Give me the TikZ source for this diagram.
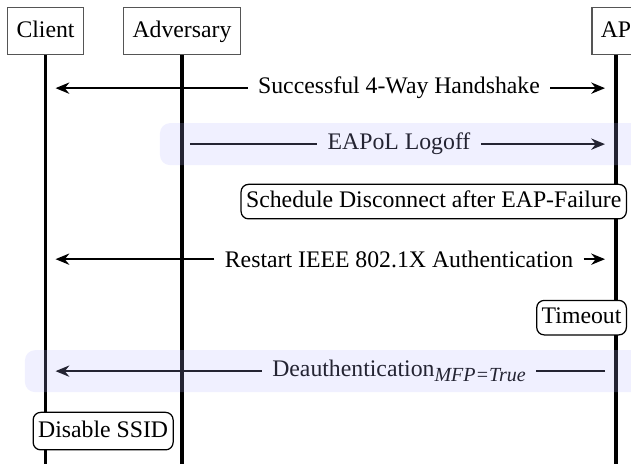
\documentclass[tikz,border=0pt]{standalone}
\usepackage{fontspec}
\setmainfont{Liberation Serif}
\usetikzlibrary{arrows.meta,positioning}
\definecolor{bandblue}{RGB}{180,180,255}
\definecolor{frame}{HTML}{555555}

\begin{document}
\begin{tikzpicture}[font=\fontsize{9.5}{11}\selectfont,
  actor/.style={draw=frame,fill=white,minimum height=18.8pt,text height=7pt,text depth=2pt,
                inner xsep=3.5pt,line width=0.5pt},
  lifeline/.style={line width=1.4pt},
  msgline/.style={line width=0.8pt},
  msg/.style={msgline,-{Stealth[length=5.5pt,width=4.5pt]}},
  msgtext/.style={inner xsep=4pt,inner ysep=1pt},
  proc/.style={draw,fill=white,rounded corners=3pt,inner xsep=2pt,inner ysep=1pt,
               minimum height=13.8pt,text height=7pt,text depth=2pt,line width=0.5pt},
  band/.style={fill=bandblue,fill opacity=0.2,rounded corners=4pt}]
  \useasboundingbox (0,0) rectangle (8.87,6.51);
  % participants
  \node[actor] (client) at (0.640,6.072) {Client};
  \node[actor] (adv) at (2.558,6.072) {Adversary};
  \node[actor] (ap) at (8.659,6.072) {AP};
  \foreach \p in {client,adv,ap}{
    \draw[lifeline] (\p.south) -- (\p.south |- 0,-0.2);}
  % successful handshake
  \node[msgtext] (hs) at (5.609,5.271) {Successful 4-Way Handshake};
  \draw[msg] (hs) -- ([xshift=4pt]client.south |- hs);
  \draw[msg] (hs) -- ([xshift=-4.4pt]ap.south |- hs);
  % logoff sent by the adversary
  \node[msgtext] (logoff) at (5.609,4.484) {EAPoL Logoff};
  \draw[msgline] ([xshift=3.2pt]adv.south |- logoff) -- (logoff);
  \draw[msg] (logoff) -- ([xshift=-4.4pt]ap.south |- logoff);
  \node[proc,anchor=east] (sched) at ([xshift=4.4pt]ap.south |- 0,3.676)
       {Schedule Disconnect after EAP-Failure};
  % second authentication
  \node[msgtext] (restart) at (5.609,2.867) {Restart IEEE 802.1X Authentication};
  \draw[msg] (restart) -- ([xshift=4pt]client.south |- restart);
  \draw[msg] (restart) -- ([xshift=-4.4pt]ap.south |- restart);
  \node[proc,anchor=east] (timeout) at ([xshift=4.4pt]ap.south |- 0,2.045) {Timeout};
  % deauthentication
  \node[msgtext] (deauth) at (5.609,1.293)
       {Deauthentication\raisebox{-0.45ex}{\fontsize{8}{9}\selectfont\itshape MFP=True}};
  \draw[msgline] ([xshift=-4.4pt]ap.south |- deauth) -- (deauth);
  \draw[msg] (deauth) -- ([xshift=4pt]client.south |- deauth);
  \node[proc,anchor=west,minimum height=15pt] (ssid) at ([xshift=-5.2pt]client.south |- 0,0.450)
       {Disable SSID};
  % highlight of the injected frames
  \fill[band] (2.249,4.189) rectangle (9.2,4.779);
  \fill[band] (0.351,0.998) rectangle (9.2,1.588);
\end{tikzpicture}
\end{document}
